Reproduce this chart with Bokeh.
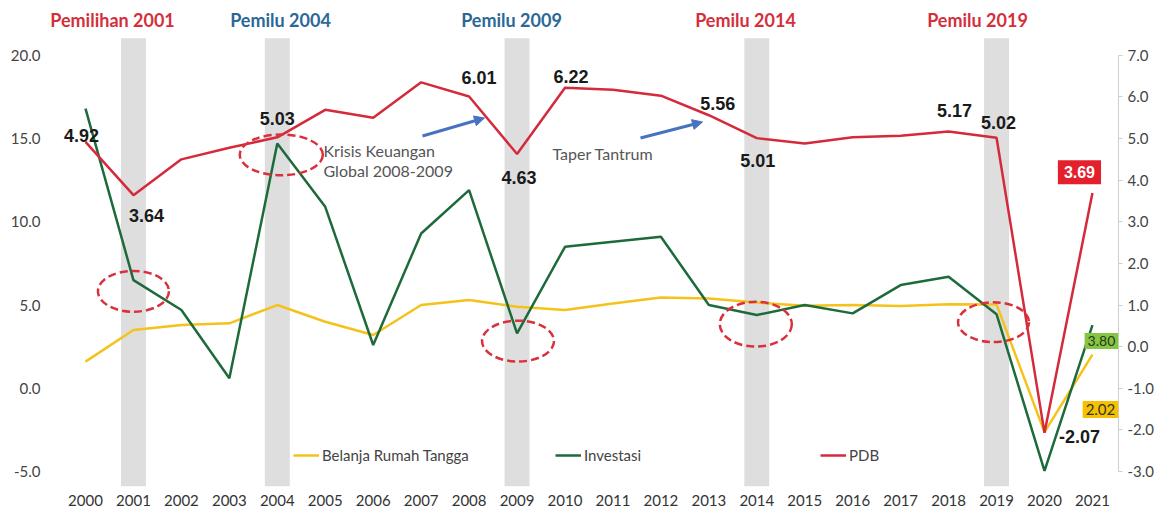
from bokeh.plotting import figure
from bokeh.models import (Range1d, LinearAxis, FixedTicker, NumeralTickFormatter,
                          Legend, LegendItem, Label, Arrow, NormalHead)
from bokeh.core.properties import value
from bokeh.embed import file_html
from bokeh.resources import INLINE

# ---------------- data ----------------
years = list(range(2000, 2022))
pdb = [4.92, 3.64, 4.50, 4.78, 5.03, 5.69, 5.50, 6.35, 6.01, 4.63, 6.22,
       6.17, 6.03, 5.56, 5.01, 4.88, 5.03, 5.07, 5.17, 5.02, -2.07, 3.69]
investasi = [16.8, 6.5, 4.7, 0.6, 14.7, 10.9, 2.6, 9.3, 11.9, 3.3, 8.5,
             8.8, 9.1, 5.0, 4.4, 5.0, 4.5, 6.2, 6.7, 4.45, -4.96, 3.80]
belanja_rt = [1.6, 3.5, 3.8, 3.9, 5.0, 4.0, 3.2, 5.0, 5.3, 4.9, 4.7,
              5.1, 5.45, 5.4, 5.15, 4.96, 5.0, 4.95, 5.05, 5.04, -2.63, 2.02]
election_years = [2001, 2004, 2009, 2014, 2019]
election_names = ["Pemilihan 2001", "Pemilu 2004", "Pemilu 2009", "Pemilu 2014", "Pemilu 2019"]
election_colors = ["#d42f3c", "#2a6898", "#2a6898", "#d42f3c", "#d42f3c"]
left_ticks = [-5, 0, 5, 10, 15, 20]
right_ticks = [-3, -2, -1, 0, 1, 2, 3, 4, 5, 6, 7]
pdb_label_years = [2000, 2001, 2004, 2008, 2009, 2010, 2013, 2014, 2018, 2019, 2020]

# ---------------- layout constants ----------------
FL, FR, FT, FB = 50, 1118, 5, 488          # frame edges in canvas px
PXY = 47.95                                 # px per year
PXU = 16.72                                 # px per left-axis unit
X0PX, Y0PX = 85, 389.4                      # canvas px of (2000, 0)

def px2x(px):
    return 2000 + (px - X0PX) / PXY

def px2y(py):
    return (Y0PX - py) / PXU

xs, xe = px2x(FL), px2x(FR)
ys, ye = px2y(FB), px2y(FT)

def r2l(v):  # right-axis value -> left-axis value
    return (v + 1) / 0.4

p = figure(width=1166, height=508, x_range=Range1d(xs, xe), y_range=Range1d(ys, ye),
           output_backend="svg", toolbar_location=None,
           min_border_left=FL, min_border_right=1166 - FR,
           min_border_top=FT, min_border_bottom=508 - FB)
p.extra_y_ranges = {"right": Range1d(0.4 * ys - 1, 0.4 * ye - 1)}
p.outline_line_color = None
p.xgrid.visible = False
p.ygrid.visible = False
p.background_fill_color = "white"
p.border_fill_color = "white"

AXFONT = "Lato"
# left axis
ya = p.yaxis[0]
ya.ticker = FixedTicker(ticks=left_ticks)
ya.formatter = NumeralTickFormatter(format="0.0")
ya.axis_line_color = None
ya.major_tick_line_color = None
ya.minor_tick_line_color = None
ya.major_label_text_font = AXFONT
ya.major_label_text_font_size = "15px"
ya.major_label_text_color = "#444444"
ya.major_label_standoff = 4

# bottom axis
xa = p.xaxis[0]
xa.ticker = FixedTicker(ticks=years)
xa.formatter = NumeralTickFormatter(format="0")
xa.axis_line_color = None
xa.major_tick_line_color = None
xa.minor_tick_line_color = None
xa.major_label_text_font = AXFONT
xa.major_label_text_font_size = "15px"
xa.major_label_text_color = "#333333"
xa.major_label_standoff = 2

# right axis
ra = LinearAxis(y_range_name="right", ticker=FixedTicker(ticks=right_ticks),
                formatter=NumeralTickFormatter(format="0.0"), bounds=(-3, 7))
ra.axis_line_color = "#cfcfcf"
ra.axis_line_width = 1
ra.major_tick_line_color = "#cfcfcf"
ra.major_tick_out = 4
ra.major_tick_in = 0
ra.minor_tick_line_color = None
ra.major_label_text_font = AXFONT
ra.major_label_text_font_size = "15px"
ra.major_label_text_color = "#444444"
ra.major_label_standoff = 5
p.add_layout(ra, "right")

# election bars
p.vbar(x=election_years, width=0.52, bottom=px2y(488), top=px2y(38),
       fill_color="#dedede", line_color=None)

# election titles
title_px = [112, 280, 511, 745, 977]
for name, col, tx in zip(election_names, election_colors, title_px):
    p.add_layout(Label(x=px2x(tx), y=px2y(20), text=name, text_align="center",
                       text_baseline="middle", text_font=AXFONT, text_font_style="bold",
                       text_font_size="18px", text_color=col))

# lines
r_y = p.line(years, belanja_rt, line_color="#f5c21b", line_width=2.5)
r_g = p.line(years, investasi, line_color="#1d6a3b", line_width=2.5)
r_r = p.line(years, pdb, line_color="#d42a3b", line_width=2.5, y_range_name="right")

# dashed ellipses (offsets in px from election year positions)
ell_dx = [0, 4, 1, -1, -3]
ell_py = [292, 155, 342, 325, 323]
ell_w = [71, 83, 72, 72, 71]
ell_h = [41, 41, 41, 45, 40]
p.ellipse(x=[yr + d / PXY for yr, d in zip(election_years, ell_dx)],
          y=[px2y(v) for v in ell_py],
          width=[w / PXY for w in ell_w], height=[h / PXU for h in ell_h],
          fill_color=None, line_color="#d9303c", line_width=2.5, line_dash="8 4")

# PDB data labels (pixel offsets from points)
lab_off = {2000: (-4, -6), 2001: (13, 20), 2004: (0, -19), 2008: (10, -19),
           2009: (2, 24), 2010: (6, -11), 2013: (9, -12), 2014: (1, 22),
           2018: (6, -21), 2019: (2, -15), 2020: (35, 4)}
lx, ly, lt = [], [], []
for yr in pdb_label_years:
    v = pdb[years.index(yr)]
    dx, dy = lab_off[yr]
    lx.append(yr + dx / PXY)
    ly.append(r2l(v) - dy / PXU)
    lt.append(f"{v:.2f}")
p.text(x=lx, y=ly, text=lt, text_align="center", text_baseline="middle",
       text_font=value("Liberation Sans"), text_font_style="bold",
       text_font_size="18px", text_color="#1a1a1a")

# boxed end labels
v_r = pdb[-1]
p.add_layout(Label(x=2021 - 13 / PXY, y=r2l(v_r) + 21 / PXU, text=f"{v_r:.2f}",
                   text_align="center", text_baseline="middle",
                   text_font="Liberation Sans", text_font_style="bold", text_font_size="16px",
                   text_color="white", background_fill_color="#e3202c", padding=6))
v_g = investasi[-1]
p.add_layout(Label(x=2021 + 9 / PXY, y=v_g - 16 / PXU, text=f"{v_g:.2f}",
                   text_align="center", text_baseline="middle",
                   text_font=AXFONT, text_font_size="14px",
                   text_color="#1d3b1d", background_fill_color="#86c442", padding=3))
v_y = belanja_rt[-1]
p.add_layout(Label(x=2021 + 8 / PXY, y=v_y - 55 / PXU, text=f"{v_y:.2f}",
                   text_align="center", text_baseline="middle",
                   text_font=AXFONT, text_font_size="15px",
                   text_color="#333333", background_fill_color="#f6c100", padding=3))

# annotations
for txt, tx, ty in [("Krisis Keuangan", 323, 151), ("Global 2008-2009", 323, 171),
                    ("Taper Tantrum", 552, 154)]:
    p.add_layout(Label(x=px2x(tx), y=px2y(ty), text=txt, text_align="left",
                       text_baseline="middle", text_font=AXFONT, text_font_size="16px",
                       text_color="#555555"))
blue = "#4672c0"
for (x1, y1, x2, y2) in [(422, 136, 484, 118), (640, 138, 702, 122)]:
    p.add_layout(Arrow(end=NormalHead(size=10, fill_color=blue, line_color=blue),
                       x_start=px2x(x1), y_start=px2y(y1), x_end=px2x(x2), y_end=px2y(y2),
                       line_color=blue, line_width=3))

# legends
for r, name, lx0 in [(r_y, "Belanja Rumah Tangga", 293), (r_g, "Investasi", 555), (r_r, "PDB", 820)]:
    lg = Legend(items=[LegendItem(label=name, renderers=[r])],
                location=(lx0 - FL, FB - 467), orientation="horizontal",
                padding=0, margin=0, glyph_width=26, glyph_height=20, label_height=20,
                label_standoff=3, label_text_font=AXFONT, label_text_font_size="15px",
                label_text_color="#444444", background_fill_alpha=0, border_line_alpha=0)
    p.add_layout(lg)

open("out.html", "w").write(file_html(p, INLINE))
